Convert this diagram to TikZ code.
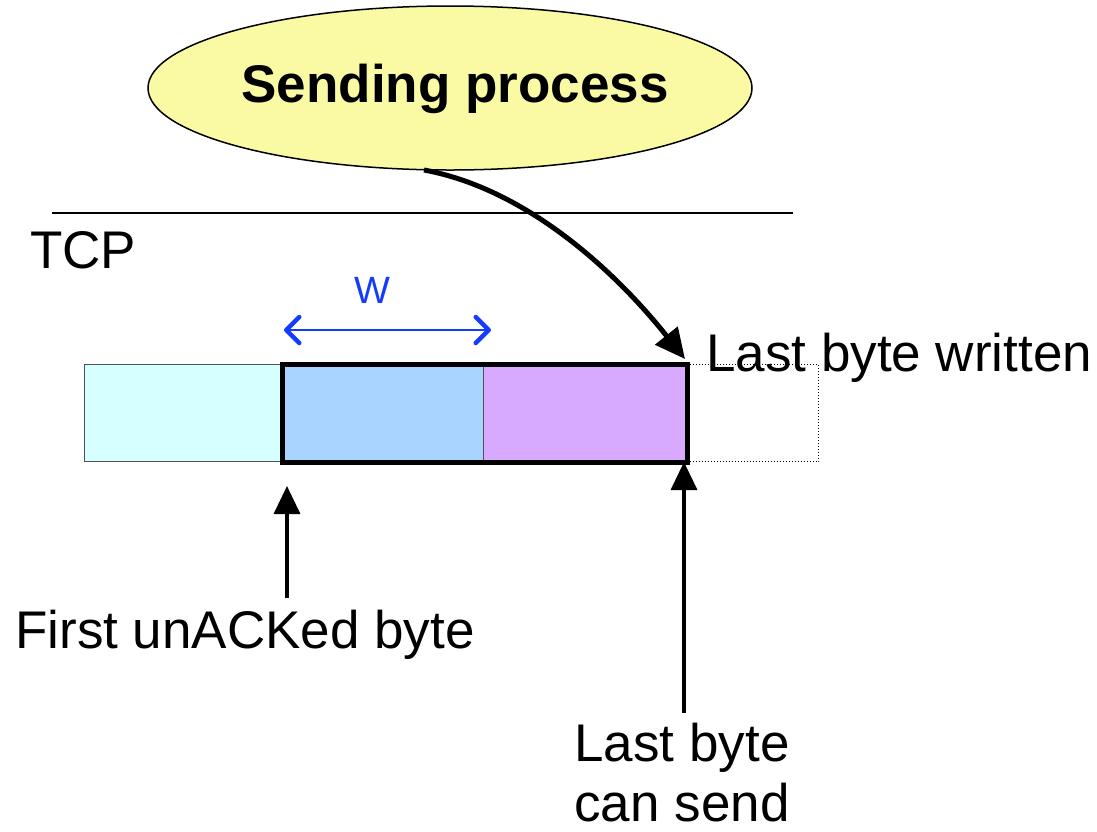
\documentclass[tikz,border=0pt]{standalone}
\usepackage{fontspec}
\setmainfont{Liberation Sans}
\usetikzlibrary{shapes.geometric,arrows.meta}
\tikzset{
  big/.style={font=\fontsize{53}{60}\selectfont, inner sep=0pt},
  cell/.style={anchor=north west, inner sep=0pt, draw={rgb,255:red,80;green,80;blue,80}, line width=1pt},
  blackarrow/.style={-{Triangle[length=28pt,width=26pt]}, line width=3.5pt},
  wbarb/.tip={Straight Barb[length=13pt,width=26pt,line width=4.5pt,line cap=round,line join=round]},
}
\begin{document}
\begin{tikzpicture}[x=1pt,y=-1pt]
\useasboundingbox (0,0) rectangle (1097,831);
% ellipse
\node[ellipse, draw=black, line width=1.5pt, fill={rgb,255:red,250;green,250;blue,165}, minimum width=604pt, minimum height=164pt, inner sep=0pt] (proc) at (450,88) {};
\node[big, font=\fontsize{53}{60}\selectfont\bfseries] (proclbl) at (455,89) {Sending process};
% TCP line
\coordinate (l1) at (52,213);
\coordinate (l2) at (793,213);
\draw[line width=1.3pt] (l1) -- (l2);
\node[big, anchor=west] (tcp) at (30,250) {TCP};
% buffer cells
\node[cell, fill={rgb,255:red,214;green,255;blue,255}, minimum width=198pt, minimum height=97pt] (c1) at (84,364) {};
\node[cell, fill={rgb,255:red,168;green,212;blue,255}, minimum width=201pt, minimum height=97pt] (c2) at (282,364) {};
\node[cell, fill={rgb,255:red,216;green,170;blue,255}, minimum width=203pt, minimum height=99pt] (c3) at (483,362) {};
\node[anchor=north west, inner sep=0pt, draw=black, dotted, line width=1pt, minimum width=132pt, minimum height=97pt] (c4) at (686,364) {};
\draw[line width=5pt] (c2.north west) rectangle (c3.south east);
% W arrow
\coordinate (w1) at (284,330);
\coordinate (w2) at (491,330);
\draw[{wbarb}-{wbarb}, line width=2.2pt, color={rgb,255:red,20;green,60;blue,255}] (w1) -- (w2);
\node[font=\fontsize{38}{40}\selectfont, text={rgb,255:red,20;green,60;blue,255}, inner sep=0pt] (wlbl) at (372,290) {W};
% curved arrow
\coordinate (cs) at (424,170);
\coordinate (ce) at (685,359);
\draw[-{Triangle[length=30pt,width=28pt]}, line width=5pt] (cs) .. controls (522,188) and (610,265) .. (ce);
% labels
\node[big, anchor=west] (lbw) at (706,358) {Last byte written};
\node[big] (fu) at (245,635) {First unACKed byte};
\node[big, align=center] (lcs) at (682,773) {Last byte\\can send};
% vertical arrows
\coordinate (a1s) at (287,598);
\coordinate (a1e) at (287,486);
\draw[blackarrow] (a1s) -- (a1e);
\coordinate (a2s) at (684,713);
\coordinate (a2e) at (684,462);
\draw[blackarrow] (a2s) -- (a2e);
\end{tikzpicture}
\end{document}
